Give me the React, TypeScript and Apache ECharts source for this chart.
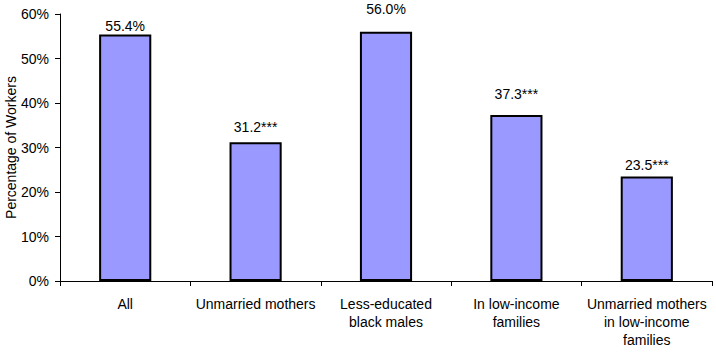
import React, { useEffect, useRef } from "react";
import * as echarts from "echarts";

const categories = [
  "All",
  "Unmarried mothers",
  "Less-educated\nblack males",
  "In low-income\nfamilies",
  "Unmarried mothers\nin low-income\nfamilies",
];
const values = [55.4, 31.2, 56.0, 37.3, 23.5];
const valueLabels = ["55.4%", "31.2***", "56.0%", "37.3***", "23.5***"];
const yTicks = [0, 10, 20, 30, 40, 50, 60];

const FONT = "'Liberation Sans', Arial, sans-serif";

export default function App() {
  const ref = useRef<HTMLDivElement>(null);
  useEffect(() => {
    if (!ref.current) return;
    const chart = echarts.init(ref.current, null, { renderer: "svg" });
    const labelGaps = [1, 8, 16, 14, 4];
    chart.setOption({
      animation: false,
      backgroundColor: "#ffffff",
      textStyle: { fontFamily: FONT },
      grid: { left: 60, right: 4, top: 14, bottom: 75, containLabel: false, outerBoundsMode: "none" },
      xAxis: {
        type: "category",
        data: categories,
        axisLine: { lineStyle: { color: "#000", width: 1 } },
        axisTick: { show: true, alignWithLabel: false, length: 5, lineStyle: { color: "#000" } },
        axisLabel: {
          color: "#000",
          fontSize: 14,
          fontFamily: FONT,
          lineHeight: 18,
          margin: 14,
          interval: 0,
        },
      },
      yAxis: {
        type: "value",
        min: yTicks[0],
        max: yTicks[yTicks.length - 1],
        interval: 10,
        name: "Percentage of Workers",
        nameLocation: "middle",
        nameGap: 42,
        nameMoveOverlap: false,
        nameTextStyle: { color: "#000", fontSize: 14, fontFamily: FONT },
        axisLine: { show: true, lineStyle: { color: "#000", width: 1 } },
        axisTick: { show: true, length: 5, lineStyle: { color: "#000" } },
        splitLine: { show: false },
        axisLabel: {
          color: "#000",
          fontSize: 14,
          fontFamily: FONT,
          margin: 11,
          formatter: (v: number) => `${v}%`,
        },
      },
      series: [
        {
          type: "bar",
          barWidth: "40%",
          data: values.map((v, i) => ({
            value: v,
            label: { distance: labelGaps[i] },
          })),
          itemStyle: { color: "#9999FF", borderColor: "#000", borderWidth: 2 },
          label: {
            show: true,
            position: "top",
            color: "#000",
            fontSize: 14,
            fontFamily: FONT,
            formatter: (p: any) => valueLabels[p.dataIndex],
          },
        },
      ],
    });
    return () => chart.dispose();
  }, []);
  return <div ref={ref} style={{ width: 716, height: 356, position: "absolute", left: 0, top: 0 }} />;
}
